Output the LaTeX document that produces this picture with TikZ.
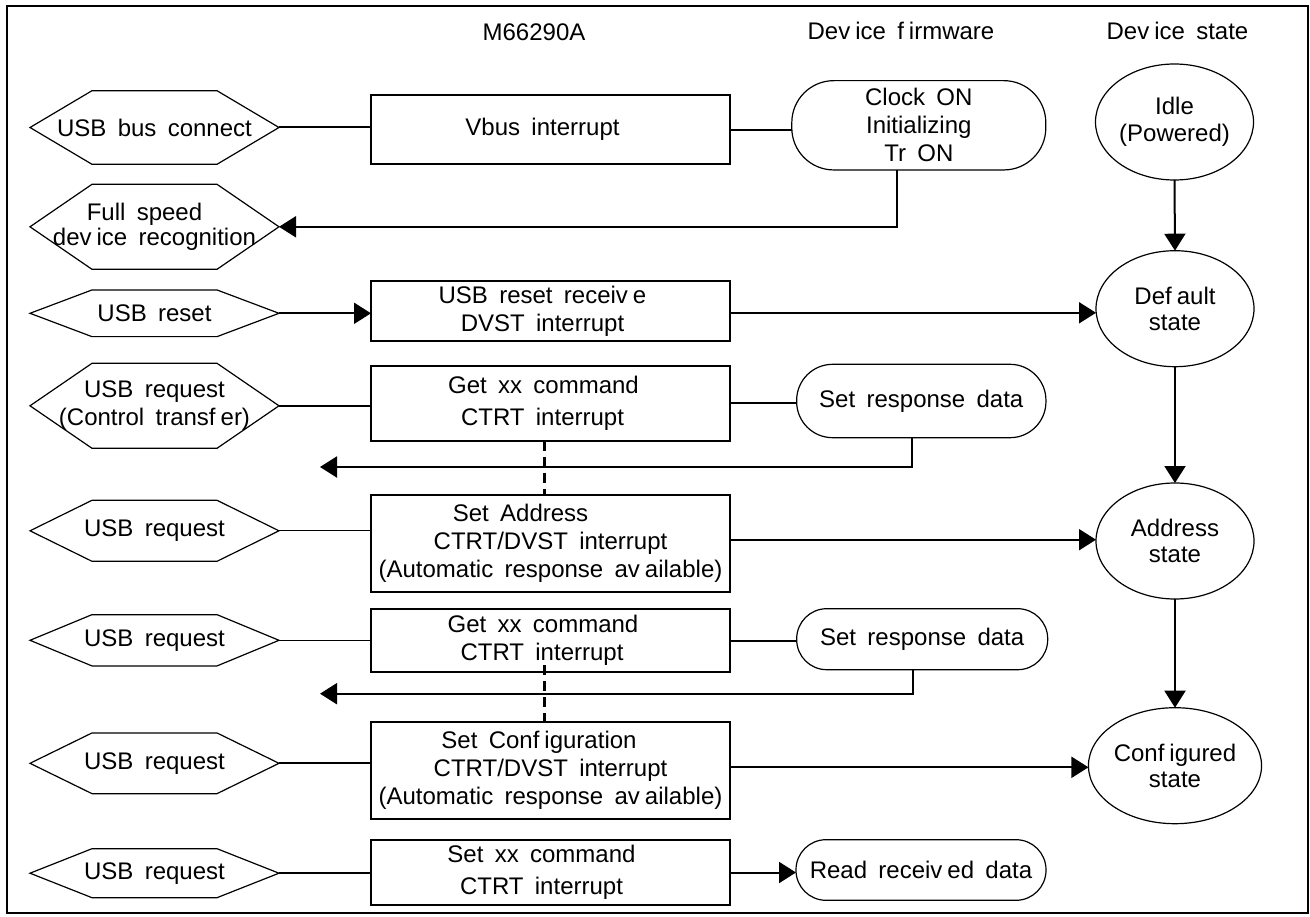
\documentclass[tikz,border=0pt]{standalone}
\usepackage{fontspec}
\setmainfont[WordSpace=1.7]{Liberation Sans}
\usetikzlibrary{arrows.meta,shapes.geometric,calc}
\newcommand\xgap{\kern5pt\relax}
\newcommand\hexoutline[1]{\draw[hexline] (#1.west) -- ([xshift=62pt]#1.north west) -- ([xshift=-62pt]#1.north east) -- (#1.east) -- ([xshift=-62pt]#1.south east) -- ([xshift=62pt]#1.south west) -- cycle;}
\begin{document}
\begin{tikzpicture}[x=1pt,y=-1pt,
  txt/.style={font=\fontsize{24}{28}\selectfont},
  hexbox/.style={txt, minimum width=249pt, inner sep=0pt, outer sep=0pt, align=center},
  hexline/.style={line width=1.2pt},
  box/.style={txt, draw, line width=2.2pt, minimum width=359pt, inner sep=0pt, outer sep=0pt, align=center},
  stad/.style={txt, draw, line width=1.2pt, inner sep=0pt, outer sep=0pt, align=center},
  st/.style={draw, ellipse, line width=1.2pt, minimum width=158pt, minimum height=116pt, inner sep=0pt, outer sep=0pt, align=center, font=\fontsize{24}{26.5}\selectfont},
  conn/.style={line width=2pt},
  thinconn/.style={line width=1.2pt},
  arr/.style={line width=2pt, -{Triangle[length=17pt,width=21pt]}},
  dsh/.style={line width=2.4pt, dash pattern=on 10pt off 6pt},
]
\useasboundingbox (0,0) rectangle (1310,917);
\draw[line width=2.2pt] (7,6) rectangle (1308,913);

% headers
\node[txt] (hM) at (534,32.3) {M66290A};
\node[txt] (hF) at (901,30.7) {Dev\xgap ice f\xgap irmware};
\node[txt] (hS) at (1177.5,30.7) {Dev\xgap ice state};

% M66290A boxes
\node[box, minimum height=69.3pt] (vbus) at (550.5,129.7) {Vbus interrupt\hspace*{16pt}};
\node[box, minimum height=59.7pt] (reset) at (550.5,310.8) {USB reset receiv\xgap e\hspace*{16pt}\\DVST interrupt\hspace*{16pt}};
\node[box, minimum height=75pt, font=\fontsize{24}{32}\selectfont] (get1) at (550.5,403.2) {Get xx command\hspace*{14pt}\\CTRT interrupt\hspace*{16pt}};
\node[box, minimum height=96.7pt] (setaddr) at (550.5,543.7) {Set Address\hspace*{60pt}\\CTRT/DVST interrupt\hspace*{49pt}\\(Automatic response av\xgap ailable)};
\node[box, minimum height=62.7pt] (get2) at (550.5,640.7) {Get xx command\hspace*{15pt}\\CTRT interrupt\hspace*{17pt}};
\node[box, minimum height=96.7pt] (setconf) at (550.5,770.3) {Set Conf\xgap iguration\hspace*{23pt}\\CTRT/DVST interrupt\hspace*{28pt}\\(Automatic response av\xgap ailable)};
\node[box, minimum height=64.4pt, font=\fontsize{24}{31.7}\selectfont] (setxx) at (550.5,872.5) {Set xx command\hspace*{18pt}\\CTRT interrupt\hspace*{18pt}};

% firmware
\node[stad, minimum width=254pt, minimum height=89.3pt, rounded corners=42pt] (clock) at (918.8,125.3) {Clock ON\\Initializing\\Tr ON};
\node[stad, minimum width=249.3pt, minimum height=73.4pt, rounded corners=36pt] (resp1) at (921.3,401) {Set response data};
\node[stad, minimum width=251pt, minimum height=61pt, rounded corners=30pt] (resp2) at (922.2,639.2) {Set response data};
\node[stad, minimum width=250pt, minimum height=60.6pt, rounded corners=30pt] (read) at (921,870) {Read receiv\xgap ed data};

% device states
\node[st] (idle) at (1174.5,122) {Idle\\(Powered)};
\node[st] (default) at (1175,308.7) {Def\xgap ault\\state};
\node[st] (address) at (1175,541) {Address\\state};
\node[st] (configured) at (1175,765.7) {Conf\xgap igured\\state};

% bus events
\node[hexbox, minimum height=73.6pt] (h1) at (154.5,127.5) {USB bus connect};
\node[hexbox, minimum height=85pt, font=\fontsize{24}{25.6}\selectfont] (h2) at (154.5,226.8) {Full speed\hspace*{20pt}\\dev\xgap ice recognition};
\node[hexbox, minimum height=46.7pt] (h3) at (154.5,313.3) {USB reset};
\node[hexbox, minimum height=85pt] (h4) at (154.5,405.8) {USB request\\(Control transf\xgap er)};
\node[hexbox, minimum height=61pt] (h5) at (154.5,530.8) {USB request};
\node[hexbox, minimum height=51.3pt] (h6) at (154.5,640.3) {USB request};
\node[hexbox, minimum height=60.7pt] (h7) at (154.5,763.3) {USB request};
\node[hexbox, minimum height=49pt] (h8) at (154.5,873.2) {USB request};
\hexoutline{h1}
\hexoutline{h2}
\hexoutline{h3}
\hexoutline{h4}
\hexoutline{h5}
\hexoutline{h6}
\hexoutline{h7}
\hexoutline{h8}

% connectors
\draw[conn] (h1.east) -- (h1.east -| vbus.west);
\draw[conn] (vbus.east) -- (vbus.east -| clock.west);
\draw[arr] ([xshift=-22pt]clock.south) |- (h2.east);
\draw[arr] (idle.south) -- (default.north);
\draw[arr] (h3.east) -- (h3.east -| reset.west);
\draw[arr] ([yshift=-2pt]reset.east) -- ([yshift=-2pt]reset.east -| default.west);
\draw[conn] (h4.east) -- (h4.east -| get1.west);
\draw[conn] (get1.east) -- (get1.east -| resp1.west);
\coordinate (r1) at (320,467);
\draw[arr] ([xshift=-9.6pt]resp1.south) |- (r1);
\draw[arr] (default.south) -- (address.north);
\draw[thinconn] (h5.east) -- (h5.east -| setaddr.west);
\draw[arr] ([yshift=4pt]setaddr.east) -- ([yshift=4pt]setaddr.east -| address.west);
\draw[thinconn] (h6.east) -- (h6.east -| get2.west);
\draw[conn] (get2.east) -- (get2.east -| resp2.west);
\coordinate (r2) at (320,693.7);
\draw[arr] ([xshift=-9.5pt]resp2.south) |- (r2);
\draw[arr] (address.south) -- (configured.north);
\draw[conn] (h7.east) -- (h7.east -| setconf.west);
\draw[arr] ([yshift=3pt]setconf.east) -- ([yshift=3pt]setconf.east -| configured.west);
\draw[conn] (h8.east) -- (h8.east -| setxx.west);
\draw[arr] (setxx.east) -- (setxx.east -| read.west);
\draw[dsh] ([xshift=-6pt]get1.south) -- ([xshift=-6pt]setaddr.north);
\draw[dsh] ([xshift=-6pt,yshift=7pt]get2.south) -- ([xshift=-6pt]setconf.north);
\end{tikzpicture}
\end{document}
